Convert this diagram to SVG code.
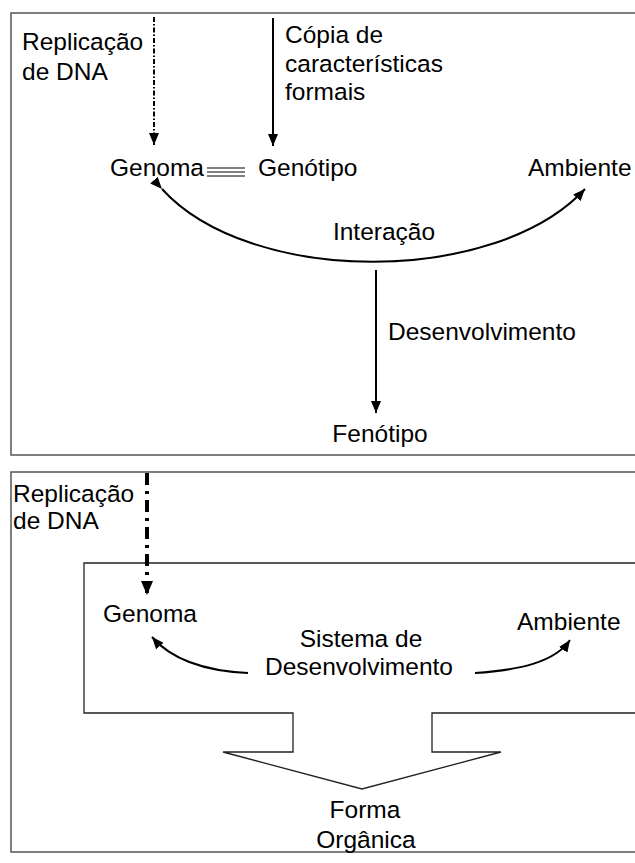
<svg xmlns="http://www.w3.org/2000/svg" width="635" height="863" viewBox="0 0 635 863">
<style>
text{font-family:"Liberation Sans",Arial,sans-serif;font-size:24.5px;fill:#000}
.box{fill:none;stroke:#555;stroke-width:1.5}
.ln{fill:none;stroke:#000;stroke-width:2}
</style>
<defs>
<marker id="ah" viewBox="0 0 12 10" refX="12" refY="5" markerWidth="12" markerHeight="10" markerUnits="userSpaceOnUse" orient="auto"><path d="M0,0 L12,5 L0,10 z" fill="#000"/></marker>
<marker id="ahb" viewBox="0 0 14 12" refX="14" refY="6" markerWidth="14" markerHeight="12" markerUnits="userSpaceOnUse" orient="auto"><path d="M0,0 L14,6 L0,12 z" fill="#000"/></marker>
</defs>
<rect class="box" x="11" y="13" width="640" height="442"/>
<rect class="box" x="11" y="472" width="640" height="380"/>
<g id="inner-system">
<path d="M640 563 H84 V713 H293 V752 H223 L362 789 L501 752 H432 V713 H640" fill="none" stroke="#222" stroke-width="1.3"/>
</g>
<g id="connectors">
<line class="ln" x1="154" y1="17" x2="154" y2="145" stroke-dasharray="5 2 1.5 2" marker-end="url(#ah)"/>
<line class="ln" x1="273" y1="18" x2="273" y2="146" marker-end="url(#ah)"/>
<g stroke="#000" stroke-width="1"><line x1="207" y1="168" x2="245" y2="168"/><line x1="207" y1="172" x2="245" y2="172"/><line x1="207" y1="176" x2="245" y2="176"/></g>
<path class="ln" d="M162 189 C250 286 495 286 585 189" marker-start="url(#ah)" marker-end="url(#ah)"/>
<line class="ln" x1="376" y1="270" x2="376" y2="413" marker-end="url(#ah)"/>
<line x1="147" y1="473" x2="147" y2="595" stroke="#000" stroke-width="4" stroke-dasharray="12 6 3 6" marker-end="url(#ahb)"/>
<path class="ln" d="M248 673 C205 671 172 660 152 637" marker-end="url(#ah)"/>
<path class="ln" d="M475 673 C520 670 555 662 570 640" marker-end="url(#ah)"/>
</g>
<g id="replicacao-1"><text x="22" y="50">Replicação</text><text x="22" y="80">de DNA</text></g>
<g id="copia"><text x="285" y="43">Cópia de</text><text x="285" y="72">características</text><text x="285" y="100">formais</text></g>
<g id="genoma-1"><text x="110" y="176">Genoma</text></g>
<g id="genotipo"><text x="258" y="176">Genótipo</text></g>
<g id="ambiente-1"><text x="528" y="176">Ambiente</text></g>
<g id="interacao"><text x="384" y="240" text-anchor="middle">Interação</text></g>
<g id="desenvolvimento"><text x="388" y="340">Desenvolvimento</text></g>
<g id="fenotipo"><text x="380" y="442" text-anchor="middle">Fenótipo</text></g>
<g id="replicacao-2"><text x="13" y="502">Replicação</text><text x="13" y="529">de DNA</text></g>
<g id="genoma-2"><text x="103" y="622">Genoma</text></g>
<g id="sistema"><text x="361" y="647" text-anchor="middle">Sistema de</text><text x="359" y="675" text-anchor="middle">Desenvolvimento</text></g>
<g id="ambiente-2"><text x="517" y="630">Ambiente</text></g>
<g id="forma"><text x="365" y="818" text-anchor="middle">Forma</text><text x="366" y="848" text-anchor="middle">Orgânica</text></g>
</svg>
